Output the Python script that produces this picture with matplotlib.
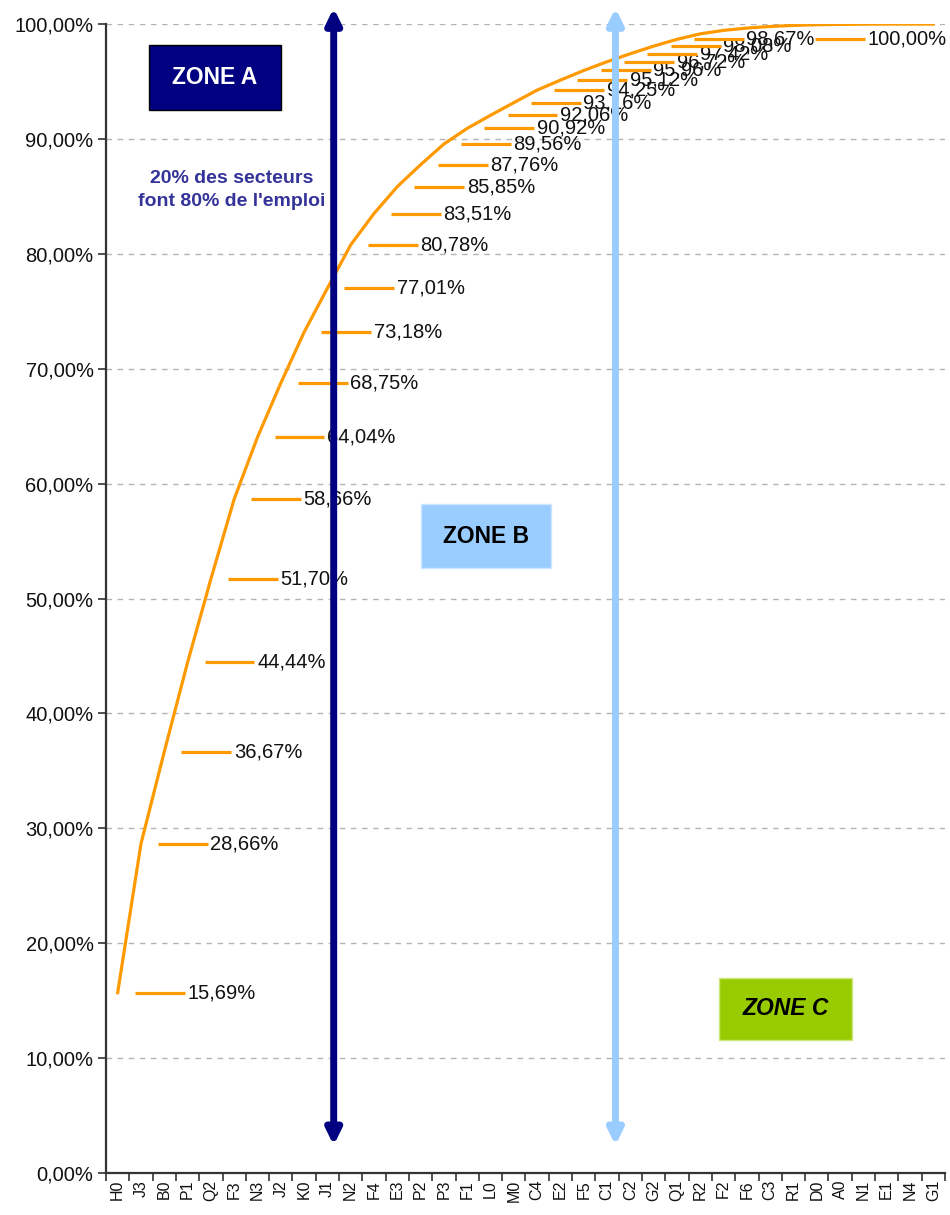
import numpy as np
import matplotlib.pyplot as plt
from matplotlib.patches import Rectangle

plt.rcParams['font.family'] = ['Liberation Sans', 'DejaVu Sans']

#######################
# Data: sectors sorted by weight, cumulative share of employment (%)
# # # # # # # # # # # #
sectors = ['H0', 'J3', 'B0', 'P1', 'Q2', 'F3', 'N3', 'J2', 'K0', 'J1', 'N2', 'F4',
           'E3', 'P2', 'P3', 'F1', 'L0', 'M0', 'C4', 'E2', 'F5', 'C1', 'C2', 'G2',
           'Q1', 'R2', 'F2', 'F6', 'C3', 'R1', 'D0', 'A0', 'N1', 'E1', 'N4', 'G1']
cumul = [15.69, 28.66, 36.67, 44.44, 51.70, 58.66, 64.04, 68.75, 73.18, 77.01,
         80.78, 83.51, 85.85, 87.76, 89.56, 90.92, 92.06, 93.16, 94.25, 95.12,
         95.96, 96.72, 97.42, 98.08, 98.67, 99.15, 99.45, 99.65, 99.79, 99.88,
         99.94, 99.97, 99.99, 100.00, 100.00, 100.00]
# labels kept on the chart (others were removed in the original)
labelled = list(range(0, 25)) + [35]
yticks = np.arange(0, 101, 10)

orange = '#FF9900'
navy = '#000080'
lightblue = '#99CCFF'
green = '#99CC00'


def fr_pct(v):
    # french style percentage: 15,69%
    return ('%.2f%%' % v).replace('.', ',')


#######################
# Figure and line
# # # # # # # # # # # #
fig = plt.figure(figsize=(9.5, 12.15), dpi=100)
ax = fig.add_axes([0.1116, 0.0346, 0.8831, 0.9456])

xs = np.arange(len(sectors))
ax.plot(xs, cumul, color=orange, lw=2.3, zorder=3, solid_joinstyle='round')

ax.set_xlim(-0.5, len(sectors) - 0.5)
ax.set_ylim(0, 100)

# y axis
ax.set_yticks(yticks)
ax.set_yticklabels([fr_pct(v) for v in yticks], fontsize=14.5, color='#111111')
ax.yaxis.grid(True, linestyle=(0, (4, 4)), color='#B4B4B4', lw=1)
ax.set_axisbelow(True)

# x axis: tick marks between categories, labels centred
ax.set_xticks(np.arange(-0.5, len(sectors), 1))
ax.set_xticklabels([])
ax.set_xticks(xs, minor=True)
ax.set_xticklabels(sectors, minor=True, rotation=90, fontsize=11.5, color='#111111')
ax.tick_params(axis='x', which='major', length=6, width=1.2, color='#333333')
ax.tick_params(axis='x', which='minor', length=0, pad=5)
ax.tick_params(axis='y', length=6, width=1.2, color='#333333', pad=3)

for s in ['top', 'right']:
    ax.spines[s].set_visible(False)
for s in ['left', 'bottom']:
    ax.spines[s].set_color('#333333')
    ax.spines[s].set_linewidth(1.6)

#######################
# Data labels with legend key (Excel style)
# # # # # # # # # # # #
for k, i in enumerate(labelled):
    x0 = xs[i]
    y0 = cumul[i]
    if i == 35:
        # last label was pushed back inside the plot area
        x0, y0 = 29.2, 98.7
    z = 4 + 0.02 * k
    ax.plot([x0 + 0.73, x0 + 2.87], [y0, y0], color=orange, lw=2.3,
            solid_capstyle='butt', zorder=z, clip_on=False)
    ax.text(x0 + 2.98, y0, fr_pct(cumul[i]),
            fontsize=14.5, va='center', ha='left', color='#111111',
            zorder=z + 0.01, clip_on=False)

#######################
# Zone arrows
# # # # # # # # # # # #
for xa, col in [(9.27, navy), (21.36, lightblue)]:
    ax.annotate('', xy=(xa, 101.4), xytext=(xa, 2.4),
                arrowprops=dict(arrowstyle='<|-|>,head_length=0.45,head_width=0.22',
                                color=col, lw=5, mutation_scale=20,
                                shrinkA=0, shrinkB=0),
                annotation_clip=False, zorder=10)

#######################
# Zone boxes and note
# # # # # # # # # # # #
zones = [('ZONE A', 1.34, 7.0, 92.5, 98.2, navy, 'white', '#000000', 'normal'),
         ('ZONE B', 13.0, 18.6, 52.65, 58.2, lightblue, 'black', '#CCE6FF', 'normal'),
         ('ZONE C', 25.8, 31.5, 11.6, 17.0, green, 'black', '#CCE680', 'italic')]
for txt, x1, x2, y1, y2, fc, tc, ec, st in zones:
    ax.add_patch(Rectangle((x1, y1), x2 - x1, y2 - y1, facecolor=fc,
                           edgecolor=ec, lw=1, zorder=11))
    ax.text((x1 + x2) / 2, (y1 + y2) / 2, txt, color=tc, fontsize=16.5,
            fontweight='bold', fontstyle=st, ha='center', va='center', zorder=12)

ax.text(4.9, 85.55, "20% des secteurs\nfont 80% de l'emploi", color='#333399',
        fontsize=14, fontweight='bold', ha='center', va='center',
        linespacing=1.45, zorder=12)

fig.savefig('out.png', dpi=100)
